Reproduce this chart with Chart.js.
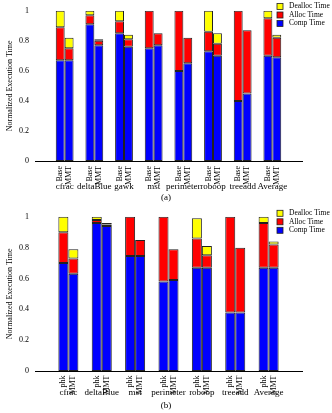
<!DOCTYPE html>
<html>
<head>
<meta charset="utf-8">
<script src="https://cdn.jsdelivr.net/npm/chart.js@4.4.1/dist/chart.umd.min.js"></script>
<style>
body { margin: 0; background: #fff; }
canvas { display: block; }
</style>
</head>
<body>
<canvas id="chartA" width="332" height="206"></canvas>
<canvas id="chartB" width="332" height="207"></canvas>
<script>
// --- данные (a) ---
var groupsA = ['cfrac', 'deltaBlue', 'gawk', 'mst', 'perimeter', 'roboop', 'treeadd', 'Average'];
var barsA = ['Base', 'MMT'];
var compBaseA    = [0.67, 0.91, 0.85, 0.75, 0.60, 0.73, 0.40, 0.70];
var allocBaseA   = [0.22, 0.06, 0.08, 0.25, 0.40, 0.13, 0.60, 0.25];
var deallocBaseA = [0.11, 0.03, 0.07, 0,    0,    0.14, 0,    0.05];
var compMmtA     = [0.67, 0.77, 0.76, 0.77, 0.65, 0.70, 0.45, 0.69];
var allocMmtA    = [0.08, 0.03, 0.05, 0.08, 0.17, 0.08, 0.42, 0.13];
var deallocMmtA  = [0.07, 0.01, 0.03, 0,    0,    0.07, 0,    0.02];

// --- данные (b) ---
var groupsB = ['cfrac', 'deltaBlue', 'mst', 'perimeter', 'roboop', 'treeadd', 'Average'];
var barsB = ['phk', 'MMT'];
var compPhkB     = [0.70, 0.96, 0.745, 0.58, 0.67, 0.38, 0.67];
var allocPhkB    = [0.20, 0.02, 0.255, 0.42, 0.19, 0.62, 0.29];
var deallocPhkB  = [0.10, 0.02, 0,     0,    0.13, 0,    0.04];
var compMmtB     = [0.63, 0.94, 0.745, 0.59, 0.67, 0.38, 0.67];
var allocMmtB    = [0.10, 0.01, 0.105, 0.20, 0.08, 0.42, 0.15];
var deallocMmtB  = [0.06, 0.01, 0,     0,    0.06, 0,    0.02];

var yTicks = ['0', '0.2', '0.4', '0.6', '0.8', '1'];
var seriesNames = ['Comp Time', 'Alloc Time', 'Dealloc Time'];
var seriesColors = ['#0000ff', '#ff0000', '#ffff00'];
var serif = '"Liberation Serif", "DejaVu Serif", serif';

Chart.defaults.color = '#000';
Chart.defaults.font.family = serif;

// пустые категории по краям
function pad(arr) {
    return [null].concat(arr).concat([null]);
}

function makeDatasets(comp1, alloc1, dealloc1, comp2, alloc2, dealloc2) {
    var sets = [comp1, alloc1, dealloc1, comp2, alloc2, dealloc2];
    var res = [];
    for (var i = 0; i < sets.length; i++) {
        res.push({
            label: seriesNames[i % 3],
            data: pad(sets[i]),
            stack: i < 3 ? 's1' : 's2',
            backgroundColor: seriesColors[i % 3],
            borderColor: '#222',
            borderWidth: 1,
            borderSkipped: false,
            categoryPercentage: 0.6,
            barPercentage: 1.0
        });
    }
    return res;
}

// подписи под столбиками, легенда и подпись (a)/(b)
var labelsPlugin = {
    id: 'labels',
    afterDraw: function(chart) {
        var o = chart.options.plugins.labels;
        var ctx = chart.ctx;
        var area = chart.chartArea;
        var xScale = chart.scales.x;
        ctx.save();
        ctx.fillStyle = '#000';
        // подписи столбиков
        ctx.font = '8px ' + serif;
        var m1 = chart.getDatasetMeta(0);
        var m2 = chart.getDatasetMeta(3);
        for (var j = 0; j < o.groups.length; j++) {
            var xs = [m1.data[j + 1].x, m2.data[j + 1].x];
            for (var k = 0; k < 2; k++) {
                ctx.save();
                ctx.translate(xs[k], area.bottom + o.subOffset);
                ctx.rotate(-Math.PI / 2);
                ctx.textAlign = 'right';
                ctx.textBaseline = 'middle';
                ctx.fillText(o.bars[k], 0, 0);
                ctx.restore();
            }
        }
        ctx.font = '9px ' + serif;
        ctx.textAlign = 'center';
        ctx.textBaseline = 'middle';
        for (var j = 0; j < o.groups.length; j++) {
            ctx.fillText(o.groups[j], xScale.getPixelForValue(j + 1), area.bottom + o.groupOffset);
        }
        // легенда
        ctx.font = '7.5px ' + serif;
        ctx.textAlign = 'left';
        for (var r = 0; r < 3; r++) {
            var idx = 2 - r;
            var y = o.legendY + r * 8.5;
            ctx.fillStyle = seriesColors[idx];
            ctx.fillRect(277, y - 3, 6, 6);
            ctx.strokeStyle = '#222';
            ctx.lineWidth = 0.8;
            ctx.strokeRect(277, y - 3, 6, 6);
            ctx.fillStyle = '#000';
            ctx.fillText(seriesNames[idx], 289, y);
        }
        // подпись
        ctx.font = '9px ' + serif;
        ctx.textAlign = 'center';
        ctx.fillText(o.caption, 166, o.captionY);
        ctx.restore();
    }
};

function makeChart(id, groups, bars, datasets, opts) {
    var ctx = document.getElementById(id).getContext('2d');
    return new Chart(ctx, {
        type: 'bar',
        data: {
            labels: pad(groups).map(function(v) { return v || ''; }),
            datasets: datasets
        },
        plugins: [labelsPlugin],
        options: {
            responsive: false,
            animation: false,
            devicePixelRatio: 1,
            layout: { padding: { top: opts.top, right: 30, left: 0, bottom: 0 } },
            plugins: {
                legend: { display: false },
                tooltip: { enabled: false },
                labels: {
                    groups: groups,
                    bars: bars,
                    subOffset: opts.subOffset,
                    groupOffset: opts.groupOffset,
                    legendY: opts.legendY,
                    caption: opts.caption,
                    captionY: opts.captionY
                }
            },
            scales: {
                x: {
                    stacked: true,
                    offset: false,
                    grid: { display: false, drawTicks: false },
                    border: { display: true, color: '#000', width: 1 },
                    ticks: { display: false },
                    afterFit: function(scale) { scale.height = opts.xHeight; }
                },
                y: {
                    stacked: true,
                    min: 0,
                    max: 1,
                    grid: { display: false, drawTicks: false },
                    border: { display: false },
                    ticks: {
                        stepSize: 0.2,
                        padding: 6,
                        font: { size: 8, family: serif },
                        callback: function(v, i) { return yTicks[i]; }
                    },
                    title: {
                        display: true,
                        text: 'Normalized Execution Time',
                        font: { size: 8, family: serif },
                        padding: { top: 5, bottom: 0 }
                    },
                    afterFit: function(scale) { scale.width = 35; }
                }
            }
        }
    });
}

makeChart('chartA', groupsA, barsA,
    makeDatasets(compBaseA, allocBaseA, deallocBaseA, compMmtA, allocMmtA, deallocMmtA),
    { top: 7, xHeight: 45, subOffset: 5, groupOffset: 26, legendY: 6.5, caption: '(a)', captionY: 198 });

makeChart('chartB', groupsB, barsB,
    makeDatasets(compPhkB, allocPhkB, deallocPhkB, compMmtB, allocMmtB, deallocMmtB),
    { top: 8, xHeight: 42, subOffset: 4.5, groupOffset: 21.5, legendY: 7.3, caption: '(b)', captionY: 200 });
</script>
</body>
</html>
